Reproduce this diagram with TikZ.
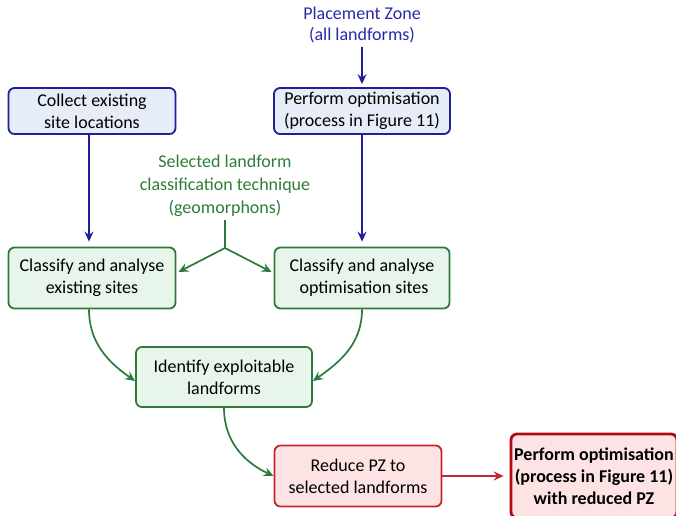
\documentclass[tikz,border=0pt]{standalone}
\usepackage{fontspec}
\setmainfont{Carlito}
\usetikzlibrary{arrows.meta}
\definecolor{bline}{HTML}{1F1F9A}
\definecolor{btext}{HTML}{2A2AA8}
\definecolor{bfill}{HTML}{E7EDF8}
\definecolor{gline}{HTML}{2E7A3C}
\definecolor{gtext}{HTML}{2E7D38}
\definecolor{gfill}{HTML}{E8F5EB}
\definecolor{rline}{HTML}{C4262C}
\definecolor{rfill}{HTML}{FDE3E3}
\definecolor{rdark}{HTML}{AE0A10}
\begin{document}
\begin{tikzpicture}[x=1pt,y=1pt,
  font=\fontsize{18}{22}\selectfont,
  box/.style={rectangle, rounded corners=6pt, line width=1.8pt, align=center, inner sep=0pt},
  bluebox/.style={box, draw=bline, fill=bfill},
  greenbox/.style={box, draw=gline, fill=gfill},
  redbox/.style={box, draw=rline, fill=rfill},
  finalbox/.style={box, draw=rdark, fill=rfill, line width=2.8pt, font=\fontsize{18}{22}\selectfont\bfseries},
  tip/.style={-{Stealth[length=10pt,width=9pt,inset=3.5pt]}},
  bluearrow/.style={tip, draw=bline, line width=1.7pt},
  greenarrow/.style={tip, draw=gline, line width=1.7pt},
  redarrow/.style={tip, draw=rline, line width=1.7pt}]
\clip (0,0) rectangle (676,-515);
\fill[white] (0,0) rectangle (676,-515);

\node[text=btext, align=center, font=\fontsize{18}{21}\selectfont] (pz) at (362,-25) {Placement Zone\\(all landforms)};
\node[bluebox, minimum width=167pt, minimum height=46pt] (collect) at (92,-111) {Collect existing\\site locations};
\node[bluebox, minimum width=176pt, minimum height=46pt] (perf) at (362,-111) {Perform optimisation\\(process in Figure 11)};
\node[text=gtext, align=center, font=\fontsize{18}{23}\selectfont] (sel) at (225,-186) {Selected landform\\classification technique\\(geomorphons)};
\node[greenbox, minimum width=167pt, minimum height=61pt] (cls1) at (92,-278) {Classify and analyse\\existing sites};
\node[greenbox, minimum width=175pt, minimum height=61pt] (cls2) at (362,-278) {Classify and analyse\\\ optimisation sites};
\node[greenbox, minimum width=176pt, minimum height=60pt] (ident) at (224,-377) {Identify exploitable\\landforms};
\node[redbox, minimum width=167pt, minimum height=61pt] (reduce) at (358,-476) {Reduce PZ to\\selected landforms};
\node[finalbox, minimum width=166pt, minimum height=84pt] (final) at (594,-476) {Perform optimisation\\(process in Figure 11)\\with reduced PZ};

\coordinate (br) at (225,-248);

\draw[bluearrow, shorten >=3pt] (pz.south) -- (perf.north);
\draw[bluearrow, shorten >=5pt] ([xshift=-3pt]collect.south) -- ([xshift=-3pt]cls1.north);
\draw[bluearrow, shorten >=5pt] (perf.south) -- (cls2.north);

\draw[draw=gline, line width=1.7pt] (sel.south) -- (br);
\draw[greenarrow] (br) -- ([yshift=6pt,xshift=2pt]cls1.east);
\draw[greenarrow] (br) -- ([yshift=6pt,xshift=-2pt]cls2.west);

\draw[greenarrow] ([xshift=-3pt]cls1.south) to[out=-90, in=145] ([yshift=-4pt]ident.west);
\draw[greenarrow] (cls2.south) to[out=-90, in=35] ([yshift=-4pt]ident.east);
\draw[greenarrow] (ident.south) to[out=-90, in=155] (reduce.west);

\draw[redarrow, shorten >=6pt] (reduce.east) -- (reduce.east -| final.west);
\end{tikzpicture}
\end{document}
